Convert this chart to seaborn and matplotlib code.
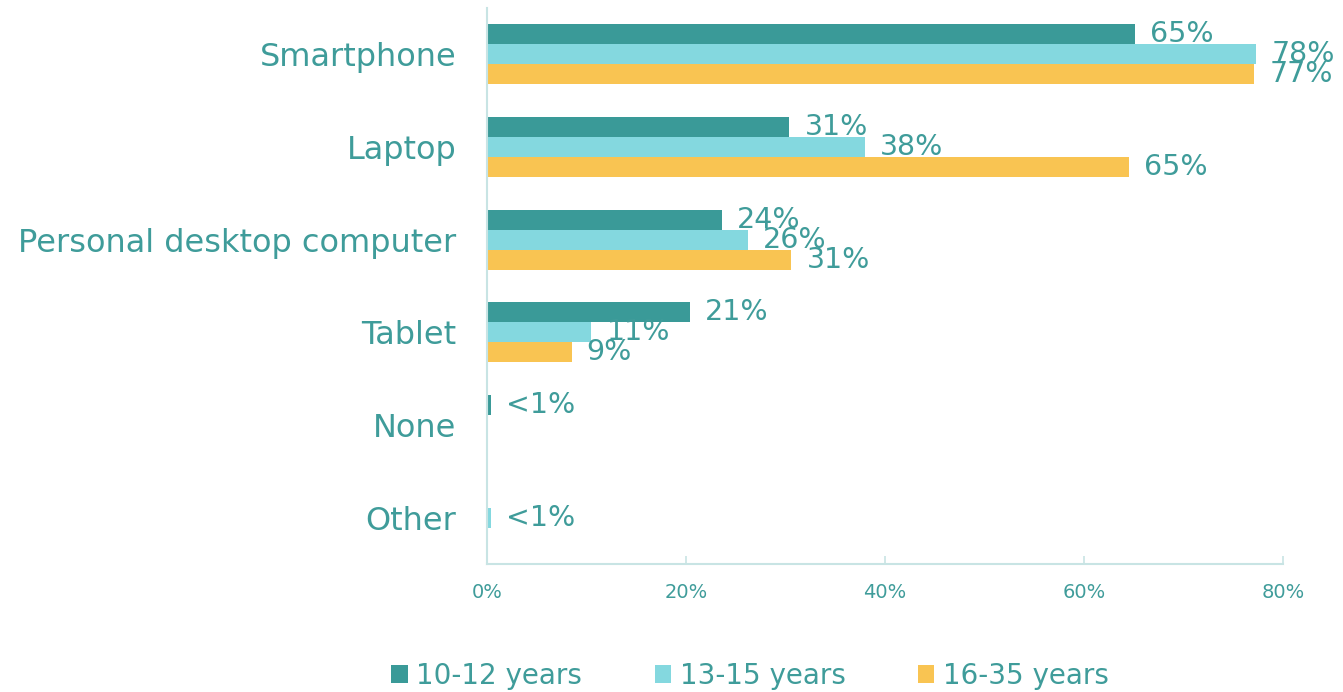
import matplotlib
matplotlib.use("Agg")
import matplotlib.pyplot as plt
from matplotlib.patches import Patch
import seaborn as sns
import pandas as pd
import numpy as np

categories = ["Smartphone", "Laptop", "Personal desktop computer", "Tablet", "None", "Other"]
series = ["10-12 years", "13-15 years", "16-35 years"]
v_10_12 = [65.1, 30.4, 23.6, 20.4, 0.4, np.nan]
v_13_15 = [77.3, 38.0, 26.2, 10.5, np.nan, 0.4]
v_16_35 = [77.1, 64.5, 30.6, 8.5, np.nan, np.nan]
lab_10_12 = ["65%", "31%", "24%", "21%", "<1%", ""]
lab_13_15 = ["78%", "38%", "26%", "11%", "", "<1%"]
lab_16_35 = ["77%", "65%", "31%", "9%", "", ""]
xticks = [0, 20, 40, 60, 80]
xtick_labels = ["0%", "20%", "40%", "60%", "80%"]

colors = ["#3a9a98", "#84d8df", "#f9c452"]
text_color = "#3f9c9a"
spine_color = "#c8e4e4"

rows = []
for s, vals in zip(series, [v_10_12, v_13_15, v_16_35]):
    for c, v in zip(categories, vals):
        if not np.isnan(v):
            rows.append({"category": c, "series": s, "value": v})
df = pd.DataFrame(rows)
labels = {s: l for s, l in zip(series, [lab_10_12, lab_13_15, lab_16_35])}

sns.set_style("white")
plt.rcParams["font.family"] = ["DejaVu Sans"]

fig = plt.figure(figsize=(13.43, 6.92), dpi=100)
ax = fig.add_axes([487 / 1343, 1 - 564 / 692, (1283 - 487) / 1343, (564 - 8) / 692])

sns.barplot(data=df, y="category", x="value", hue="series", order=categories,
            hue_order=series, palette=colors, orient="h", width=0.65,
            errorbar=None, saturation=1, ax=ax, legend=False,
            edgecolor="none", linewidth=0)

for s, cont in zip(series, ax.containers):
    for bar in cont:
        w = bar.get_width()
        if np.isnan(w):
            continue
        yc = bar.get_y() + bar.get_height() / 2
        ci = int(round(yc))
        txt = labels[s][ci]
        if txt:
            ax.annotate(txt, (w, yc), xytext=(15, 0), textcoords="offset pixels",
                        ha="left", va="center", fontsize=20.5, color=text_color)

ax.set_xlim(0, 80)
ax.set_ylim(5.5, -0.5)
ax.set_xticks(xticks)
ax.set_xticklabels(xtick_labels)
ax.set_xlabel("")
ax.set_ylabel("")
for sp in ["top", "right"]:
    ax.spines[sp].set_visible(False)
for sp in ["left", "bottom"]:
    ax.spines[sp].set_color(spine_color)
    ax.spines[sp].set_linewidth(1.5)
ax.tick_params(axis="x", direction="in", length=6, width=1.2, color=spine_color,
               labelcolor=text_color, labelsize=14, pad=14, bottom=True)
ax.tick_params(axis="y", length=0, labelcolor=text_color, labelsize=23, pad=22)

handles = [Patch(facecolor=c, edgecolor="none") for c in colors]
fig.legend(handles, series, loc="center", bbox_to_anchor=(750 / 1343, 1 - 676 / 692),
           ncol=3, frameon=False, fontsize=20, labelcolor=text_color,
           handlelength=0.6, handleheight=0.6, handletextpad=0.3, columnspacing=2.6)

fig.savefig("out.png", dpi=100)
